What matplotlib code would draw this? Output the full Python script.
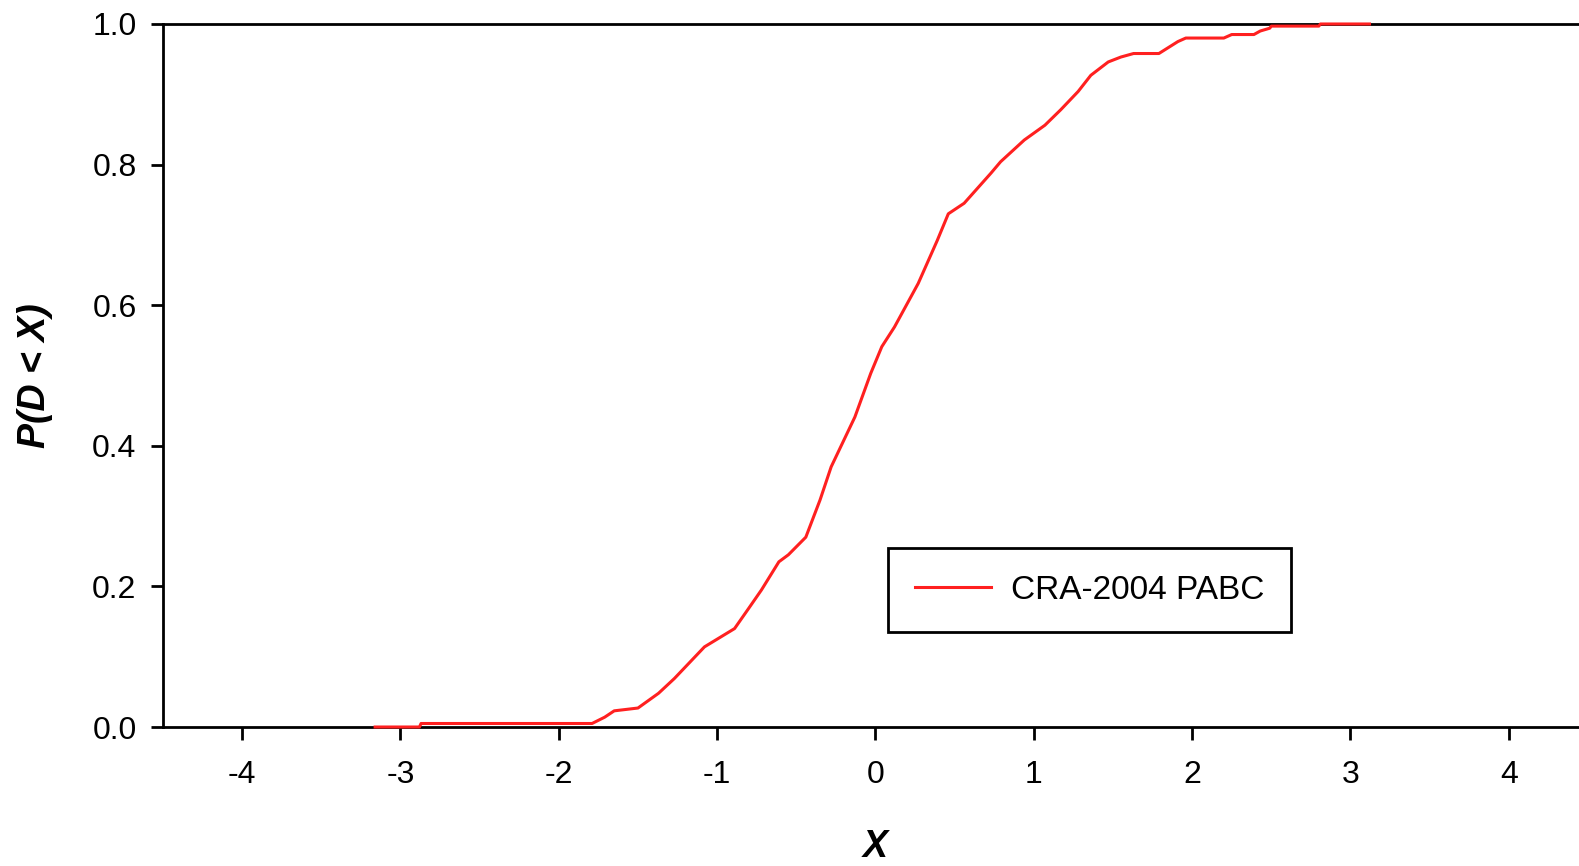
import matplotlib
matplotlib.use("Agg")
import matplotlib.pyplot as plt

plt.rcParams['font.family'] = ['Liberation Sans', 'DejaVu Sans']

# values
xs = [-3.16, -2.88, -2.87, -1.79, -1.71, -1.65, -1.50, -1.37, -1.27, -1.08,
      -0.89, -0.80, -0.72, -0.61, -0.55, -0.44, -0.35, -0.28, -0.13, -0.03,
      0.04, 0.12, 0.27, 0.39, 0.46, 0.56, 0.73, 0.79, 0.94, 1.07,
      1.17, 1.28, 1.36, 1.47, 1.55, 1.63, 1.79, 1.91, 1.96, 2.20,
      2.25, 2.39, 2.43, 2.49, 2.50, 2.80, 2.81, 3.12]
ps = [0.0, 0.0, 0.005, 0.005, 0.014, 0.023, 0.027, 0.048, 0.069, 0.114,
      0.140, 0.169, 0.195, 0.235, 0.245, 0.270, 0.323, 0.370, 0.441, 0.503,
      0.541, 0.569, 0.631, 0.692, 0.730, 0.745, 0.788, 0.804, 0.835, 0.856,
      0.878, 0.904, 0.927, 0.946, 0.953, 0.958, 0.958, 0.975, 0.980, 0.980,
      0.985, 0.985, 0.990, 0.994, 0.997, 0.997, 1.0, 1.0]

xticks = [-4, -3, -2, -1, 0, 1, 2, 3, 4]
yticks = [0.0, 0.2, 0.4, 0.6, 0.8, 1.0]
series_name = 'CRA-2004 PABC'

fig = plt.figure(figsize=(15.79, 8.66), dpi=100)
ax = fig.add_axes([0.1032, 0.1605, 0.9025, 0.8118])

ax.plot(xs, ps, color='#ff2020', lw=2.2, label=series_name, clip_on=False, zorder=5)

ax.set_xlim(-4.5, 4.5)
ax.set_ylim(0, 1)
ax.set_xticks(xticks)
ax.set_xticklabels([str(t) for t in xticks])
ax.set_yticks(yticks)
ax.set_yticklabels(['%.1f' % t for t in yticks])

for s in ax.spines.values():
    s.set_linewidth(2.0)
ax.tick_params(axis='both', direction='out', length=9, width=2.0, labelsize=23)
ax.tick_params(axis='x', pad=15)
ax.tick_params(axis='y', pad=10)

ax.set_xlabel('X', fontsize=27, fontweight='bold', style='italic', va='center')
ax.xaxis.set_label_coords(0.5, -0.1707)
ax.set_ylabel('P(D < X)', fontsize=27, fontweight='bold', style='italic', va='center')
ax.yaxis.set_label_coords(-0.0898, 0.5)

leg = ax.legend(loc='upper left', bbox_to_anchor=(0.5088, 0.2546), borderaxespad=0,
                fontsize=24, fancybox=False, framealpha=1, edgecolor='black',
                handlelength=2.3, handletextpad=0.6, borderpad=0.8)
leg.get_frame().set_linewidth(2.0)

fig.savefig('out.png', dpi=100)
